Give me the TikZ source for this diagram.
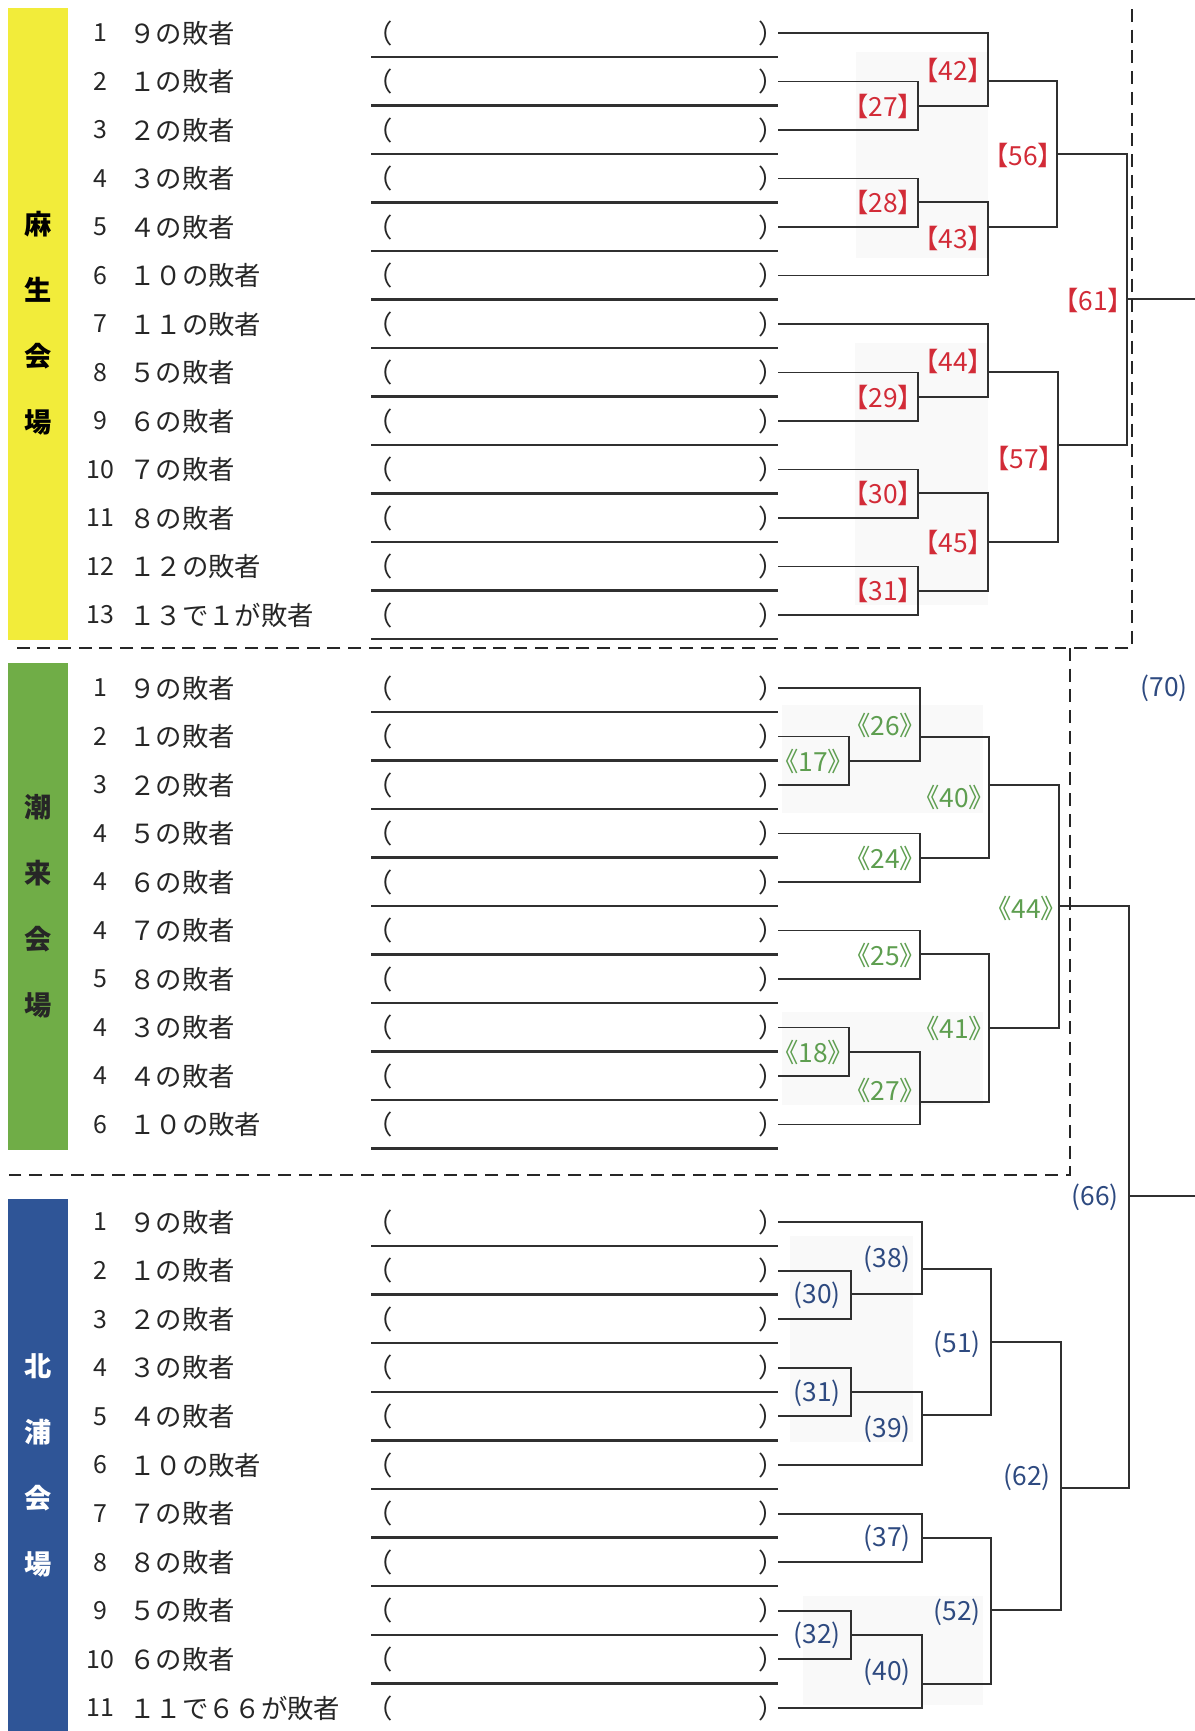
\documentclass[tikz,border=0pt]{standalone}
\usepackage{fontspec}
\newfontfamily\jpfont{Noto Sans CJK JP}
\usepackage{xcolor}
\definecolor{asoyellow}{HTML}{F2EC3A}
\definecolor{itakogreen}{HTML}{70AD47}
\definecolor{kitaurablue}{HTML}{2F5597}
\definecolor{redlbl}{HTML}{D22B37}
\definecolor{greenlbl}{HTML}{5E9E50}
\definecolor{bluelbl}{HTML}{2E4A80}
\definecolor{linegray}{HTML}{303030}
\tikzset{
  bracket/.style  = {draw=linegray,line width=1.1pt,line cap=rect},
  rule/.style     = {draw=linegray,line width=1.3pt},
  zone/.style     = {draw=black!85,line width=1.2pt,dash pattern=on 7.4pt off 4.4pt},
  entry/.style    = {font=\jpfont\fontsize{15}{17}\selectfont,inner sep=0pt,text=black!85},
  numcol/.style   = {font=\jpfont\fontsize{14.2}{16}\selectfont,inner sep=0pt,text=black!85},
  venue/.style    = {font=\jpfont\bfseries\fontsize{15.5}{17}\selectfont,inner sep=0pt},
  redtag/.style   = {font=\jpfont\fontsize{15}{17}\selectfont,inner sep=0pt,text=redlbl},
  greentag/.style = {font=\jpfont\fontsize{15}{17}\selectfont,inner sep=0pt,text=greenlbl},
  bluetag/.style  = {font=\jpfont\fontsize{15}{17}\selectfont,inner sep=0pt,text=bluelbl},
  shade/.style    = {fill=black!2.5}
}
% one venue block: prefix, first y, row pitch, list of number/text
\newcommand{\venuerows}[4]{%
  \foreach \nr/\txt [count=\i] in {#4} {
    \pgfmathsetmacro{\yy}{#2+(\i-1)*#3}
    \node[numcol] (#1n\i) at (100,\yy) {\nr};
    \node[entry,anchor=west] (#1d\i) at (129,\yy) {\txt};
    \node[entry] (#1p\i) at (380,\yy) {（};
    \node[entry] (#1q\i) at (772,\yy) {）};
    \coordinate (#1\i) at (779,\yy);
    \draw[rule] (371,\yy+24) -- (778,\yy+24);
  }
}
% one match: name, feed a, feed b, joint, tag style, tag position, tag text
\newcommand{\bout}[7]{%
  \coordinate (#1) at (#4);
  \draw[bracket] (#2) -| (#1) (#3) -| (#1);
  \node[#5] (#1t) at (#6) {#7};
}

\begin{document}
\begin{tikzpicture}[x=0.02cm,y=-0.02cm]
  \useasboundingbox (0,0) rectangle (1194,1731);
  % faint shading behind the early rounds
  \fill[shade] (856,52) rectangle (988,258);
  \fill[shade] (855,343) rectangle (988,605);
  \fill[shade] (782,705) rectangle (983,813);
  \fill[shade] (782,1012) rectangle (983,1105);
  \fill[shade] (790,1236) rectangle (913,1442);
  \fill[shade] (803,1596) rectangle (983,1705);

  % venue bars
  \fill[asoyellow]   (8,8)    rectangle (68,640);
  \fill[itakogreen]  (8,663)  rectangle (68,1150);
  \fill[kitaurablue] (8,1199) rectangle (68,1731);
  \foreach \c [count=\i] in {麻,生,会,場}
    \node[venue] (asv\i) at (38,158+66*\i) {\c};
  \foreach \c [count=\i] in {潮,来,会,場}
    \node[venue,text=black!85] (itv\i) at (38,741+66*\i) {\c};
  \foreach \c [count=\i] in {北,浦,会,場}
    \node[venue,text=white] (ktv\i) at (38,1300+66*\i) {\c};

  % entry rows
  \venuerows{as}{33}{48.5}{1/９の敗者,2/１の敗者,3/２の敗者,4/３の敗者,5/４の敗者,
    6/１０の敗者,7/１１の敗者,8/５の敗者,9/６の敗者,10/７の敗者,11/８の敗者,
    12/１２の敗者,13/１３で１が敗者}
  \venuerows{it}{688}{48.5}{1/９の敗者,2/１の敗者,3/２の敗者,4/５の敗者,4/６の敗者,
    4/７の敗者,5/８の敗者,4/３の敗者,4/４の敗者,6/１０の敗者}
  \venuerows{kt}{1222}{48.6}{1/９の敗者,2/１の敗者,3/２の敗者,4/３の敗者,5/４の敗者,
    6/１０の敗者,7/７の敗者,8/８の敗者,9/５の敗者,10/６の敗者,11/１１で６６が敗者}

  % Aso bracket
  \bout{as27}{as2}{as3}{918,106}{redtag}{883,106}{【27】}
  \bout{as42}{as1}{as27}{988,81}{redtag}{953,70}{【42】}
  \bout{as28}{as4}{as5}{918,202}{redtag}{883,202}{【28】}
  \bout{as43}{as28}{as6}{988,227}{redtag}{953,238}{【43】}
  \bout{as56}{as42}{as43}{1057,154}{redtag}{1023,155}{【56】}
  \bout{as29}{as8}{as9}{918,397}{redtag}{883,397}{【29】}
  \bout{as44}{as7}{as29}{988,372}{redtag}{953,361}{【44】}
  \bout{as30}{as10}{as11}{918,493}{redtag}{883,493}{【30】}
  \bout{as31}{as12}{as13}{918,591}{redtag}{883,590}{【31】}
  \bout{as45}{as30}{as31}{988,542}{redtag}{953,542}{【45】}
  \bout{as57}{as44}{as45}{1058,445}{redtag}{1024,458}{【57】}
  \bout{as61}{as56}{as57}{1127,299}{redtag}{1093,300}{【61】}
  \coordinate (as61e) at (1194,299);
  \draw[bracket] (as61) -- (as61e);

  % Itako bracket
  \bout{it17}{it2}{it3}{849,761}{greentag}{813,761}{《17》}
  \bout{it26}{it1}{it17}{920,737}{greentag}{885,725}{《26》}
  \bout{it24}{it4}{it5}{920,858}{greentag}{885,858}{《24》}
  \bout{it40}{it26}{it24}{989,785}{greentag}{954,797}{《40》}
  \bout{it25}{it6}{it7}{920,954}{greentag}{885,955}{《25》}
  \bout{it18}{it8}{it9}{849,1052}{greentag}{813,1052}{《18》}
  \bout{it27}{it18}{it10}{920,1102}{greentag}{885,1090}{《27》}
  \bout{it41}{it25}{it27}{989,1028}{greentag}{954,1028}{《41》}
  \bout{it44}{it40}{it41}{1059,906}{greentag}{1026,908}{《44》}

  % Kitaura bracket
  \bout{kt30}{kt2}{kt3}{851,1294}{bluetag}{817,1295}{(30)}
  \bout{kt38}{kt1}{kt30}{922,1269}{bluetag}{887,1259}{(38)}
  \bout{kt31}{kt4}{kt5}{851,1392}{bluetag}{817,1393}{(31)}
  \bout{kt39}{kt31}{kt6}{922,1415}{bluetag}{887,1429}{(39)}
  \bout{kt51}{kt38}{kt39}{991,1342}{bluetag}{957,1344}{(51)}
  \bout{kt37}{kt7}{kt8}{922,1538}{bluetag}{887,1538}{(37)}
  \bout{kt32}{kt9}{kt10}{851,1635}{bluetag}{817,1635}{(32)}
  \bout{kt40}{kt32}{kt11}{922,1684}{bluetag}{887,1672}{(40)}
  \bout{kt52}{kt37}{kt40}{991,1610}{bluetag}{957,1612}{(52)}
  \bout{kt62}{kt51}{kt52}{1061,1488}{bluetag}{1027,1477}{(62)}
  \bout{kt66}{it44}{kt62}{1129,1196}{bluetag}{1095,1197}{(66)}
  \coordinate (kt66e) at (1194,1196);
  \draw[bracket] (kt66) -- (kt66e);
  \node[bluetag] (kt70t) at (1164,688) {(70)};

  % venue borders
  \draw[zone] (1132,9) -- (1132,648) -- (9,648);
  \draw[zone] (1070,648) -- (1070,1175) -- (9,1175);
\end{tikzpicture}
\end{document}
